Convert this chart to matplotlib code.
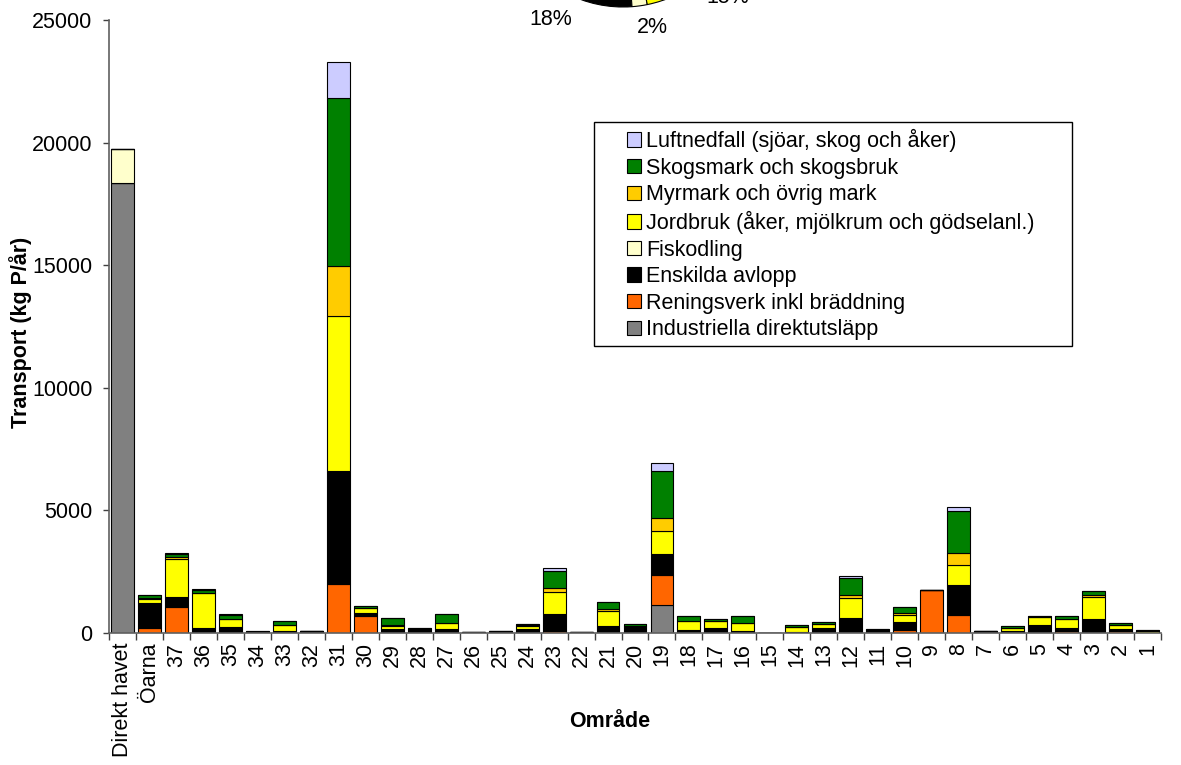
import matplotlib
matplotlib.use("Agg")
import matplotlib.pyplot as plt
from matplotlib.patches import Rectangle
import numpy as np

plt.rcParams['font.family'] = ['Liberation Sans', 'DejaVu Sans']

omraden = ['Direkt havet', 'Öarna'] + [str(n) for n in range(37, 0, -1)]

# kg P/år per källa, ordning = omraden
industri = [18350, 0, 0, 0, 0, 0, 0, 0, 0, 0, 0, 0, 0, 0, 0, 0, 0, 0, 0, 0,
            1150, 0, 0, 0, 0, 0, 0, 0, 0, 0, 0, 0, 0, 0, 0, 0, 0, 0, 0]
reningsverk = [0, 190, 1070, 0, 0, 0, 0, 0, 2000, 710, 0, 0, 0, 0, 0, 0, 95, 0, 55, 0,
               1230, 0, 0, 0, 0, 0, 0, 30, 0, 110, 1740, 720, 0, 0, 0, 80, 0, 70, 0]
enskilda = [0, 1030, 390, 200, 230, 40, 95, 70, 4590, 110, 160, 180, 175, 30, 60, 160, 680, 50, 245, 230,
            845, 135, 205, 95, 20, 40, 205, 585, 70, 325, 25, 1250, 70, 95, 325, 135, 570, 95, 20]
fiskodling = [1400, 0, 0, 0, 0, 0, 0, 0, 0, 0, 0, 0, 0, 0, 0, 0, 0, 0, 0, 0,
              0, 0, 0, 0, 0, 0, 0, 0, 0, 0, 0, 0, 0, 0, 0, 0, 0, 0, 0]
jordbruk = [0, 160, 1560, 1430, 340, 15, 245, 0, 6350, 200, 135, 0, 230, 5, 10, 135, 900, 0, 610, 55,
            950, 365, 270, 315, 0, 205, 150, 800, 40, 285, 0, 815, 0, 110, 325, 355, 900, 165, 80]
myrmark = [0, 60, 70, 10, 10, 0, 0, 0, 2040, 0, 40, 0, 15, 0, 0, 15, 175, 0, 70, 0,
           515, 0, 0, 15, 0, 0, 0, 135, 0, 80, 0, 460, 0, 0, 0, 20, 80, 10, 0]
skog = [0, 90, 130, 130, 170, 30, 130, 10, 6850, 95, 270, 10, 350, 5, 10, 70, 680, 4, 270, 95,
        1900, 175, 80, 260, 0, 80, 80, 690, 65, 255, 0, 1740, 10, 65, 40, 95, 175, 70, 30]
luft = [0, 20, 30, 20, 10, 5, 0, 0, 1460, 0, 0, 0, 0, 0, 0, 0, 120, 0, 15, 0,
        340, 0, 0, 0, 0, 0, 0, 95, 0, 10, 0, 165, 0, 0, 0, 0, 0, 0, 0]

serier = [
    ('Industriella direktutsläpp', industri, '#808080'),
    ('Reningsverk inkl bräddning', reningsverk, '#FF6600'),
    ('Enskilda avlopp', enskilda, '#000000'),
    ('Fiskodling', fiskodling, '#FFFFCC'),
    ('Jordbruk (åker, mjölkrum och gödselanl.)', jordbruk, '#FFFF00'),
    ('Myrmark och övrig mark', myrmark, '#FFCC00'),
    ('Skogsmark och skogsbruk', skog, '#008000'),
    ('Luftnedfall (sjöar, skog och åker)', luft, '#CCCCFF'),
]

# cirkeldiagrammet ovanför (bara nedre kanten syns)
pie_labels = ['18%', '2%', '15%']
pie_shares = [18, 2, 15]
pie_colors = ['#000000', '#FFFFCC', '#FFFF00']

fs = 15.5
fig = plt.figure(figsize=(11.81, 7.65), dpi=100)
ax = fig.add_axes([109 / 1181, 1 - 633 / 765, 1052 / 1181, 613 / 765])

x = np.arange(len(omraden))
bottom = np.zeros(len(omraden))
for namn, vals, col in serier:
    ax.bar(x, vals, width=0.85, bottom=bottom, color=col, edgecolor='black',
           linewidth=0.8, label=namn)
    bottom += np.array(vals)

ax.set_xlim(-0.5, len(omraden) - 0.5)
ax.set_ylim(0, 25000)
ax.set_yticks(np.arange(0, 25001, 5000))
ax.set_xticks(x)
ax.set_xticklabels(omraden, rotation=90, fontsize=fs)
ax.tick_params(axis='x', which='major', length=0, pad=7)
ax.set_xticks(np.arange(-0.5, len(omraden), 1), minor=True)
ax.tick_params(axis='x', which='minor', length=5, width=1, color='#404040')
ax.tick_params(axis='y', labelsize=fs, length=4, pad=8, width=1, color='#404040')

for s in ['top', 'right']:
    ax.spines[s].set_visible(False)
for s in ['left', 'bottom']:
    ax.spines[s].set_color('#606060')
    ax.spines[s].set_linewidth(1.2)

ax.set_ylabel('Transport (kg P/år)', fontsize=fs, fontweight='bold')
ax.yaxis.set_label_coords(-0.073, 0.49)
ax.set_xlabel('Område', fontsize=fs, fontweight='bold')
ax.xaxis.set_label_coords(0.476, -0.127)

# legend with its own frame
fig.add_artist(Rectangle((594 / 1181, 1 - 346 / 765), 478 / 1181, 224 / 765,
                         transform=fig.transFigure, fill=False,
                         edgecolor='black', linewidth=1.0))
h, l = ax.get_legend_handles_labels()
leg = fig.legend(h[::-1], l[::-1], loc='upper left',
                 bbox_to_anchor=(627 / 1181, 1 - 129 / 765), fontsize=fs,
                 frameon=False, handlelength=0.65, handleheight=0.65,
                 handletextpad=0.25, labelspacing=0.26, borderpad=0,
                 borderaxespad=0)

# pie axes: center (623, -116) px, radius 123 px
pax = fig.add_axes([500 / 1181, (765 + 116 - 123) / 765, 246 / 1181, 246 / 765])
wedges, texts = pax.pie([v / 100 for v in pie_shares], normalize=False,
                        colors=pie_colors, labels=pie_labels, startangle=209.4,
                        counterclock=True, labeldistance=1.25,
                        wedgeprops=dict(edgecolor='black', linewidth=0.8),
                        textprops=dict(fontsize=fs))
for t in texts:
    t.set_ha('center')
    t.set_va('center')
texts[1].set_position((0.236, -1.17))
texts[2].set_position((0.854, -0.92))
pax.set_xlim(-1, 1)
pax.set_ylim(-1, 1)
pax.set_aspect('equal')

fig.savefig('out.png', dpi=100)
